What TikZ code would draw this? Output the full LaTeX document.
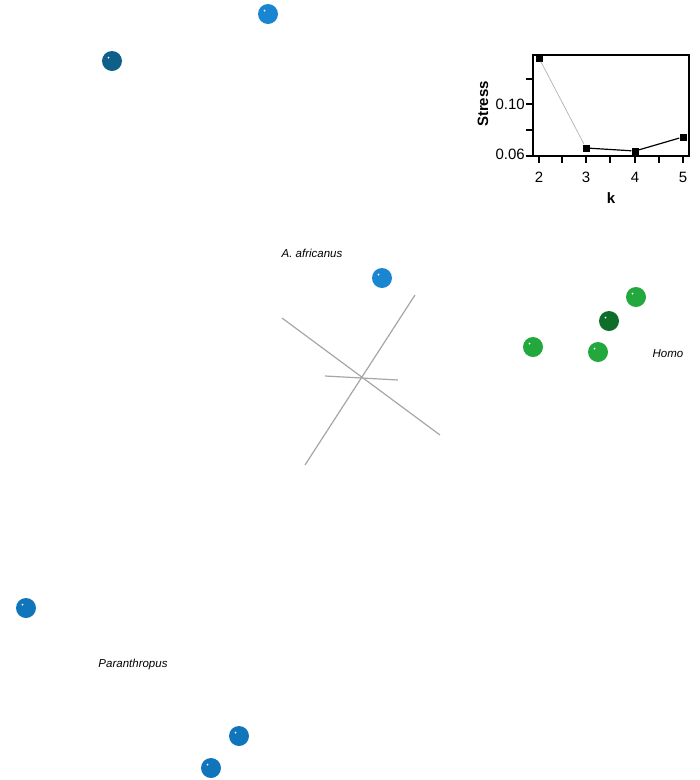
\documentclass[tikz,border=0pt]{standalone}
\usepackage{fontspec}
\setmainfont{Liberation Sans}
\begin{document}
\begin{tikzpicture}[x=1pt,y=-1pt,
  sph/.style={circle,minimum size=20pt,inner sep=0pt,fill=#1,
    path picture={\fill[white] ([xshift=-3.5pt,yshift=3.5pt]path picture bounding box.center) circle (1pt);}},
  lab/.style={font=\fontsize{11.5}{13}\selectfont\itshape},
  ax/.style={line width=1.2pt},
  pt/.style={fill=black,inner sep=0pt,minimum size=7pt,rectangle},
  tl/.style={font=\fontsize{15}{16}\selectfont}]
\useasboundingbox (0,0) rectangle (700,780);
\definecolor{b1}{HTML}{1A85D0}\definecolor{b2}{HTML}{0E5F8A}\definecolor{b3}{HTML}{1175BB}
\definecolor{g1}{HTML}{22A83C}\definecolor{g2}{HTML}{0D6E2A}
\node[sph=b1] (s1) at (268,14) {};
\node[sph=b2] (s2) at (112,61) {};
\node[sph=b1] (s3) at (382,278) {};
\node[sph=g1] (s4) at (636,297) {};
\node[sph=g2] (s5) at (609,321) {};
\node[sph=g1] (s6) at (533,347) {};
\node[sph=g1] (s7) at (598,352) {};
\node[sph=b3] (s8) at (26,608) {};
\node[sph=b3] (s9) at (239,736) {};
\node[sph=b3] (s10) at (211,768) {};
\node[lab] (la) at (312,253) {A. africanus};
\node[lab] (lh) at (668,354) {Homo};
\node[lab] (lp) at (133,665) {Paranthropus};
\draw[gray!70,line width=1.2pt] (282,318) -- (440,435) (415,295) -- (305,465) (325,376) -- (398,380);
% inset
\draw[ax] (533,55) rectangle (689,156);
\foreach \x/\l in {539/2,586/3,635/4,683/5}{
  \draw[ax] (\x,156) -- (\x,163);
  \node[tl] at (\x,177) {\l};}
\foreach \x in {562,610,659} \draw[ax] (\x,156) -- (\x,163);
\foreach \y in {79,104,130,156} \draw[ax] (533,\y) -- (526,\y);
\node[tl,anchor=east,inner sep=1pt] at (526,104) {0.10};
\node[tl,anchor=east,inner sep=1pt] at (526,154) {0.06};
\node[font=\fontsize{15}{16}\selectfont\bfseries,rotate=90] at (483,104) {Stress};
\node[font=\fontsize{15}{16}\selectfont\bfseries] at (611,198) {k};
\node[pt] (p2) at (539,58) {};
\node[pt] (p3) at (586,148) {};
\node[pt] (p4) at (635,151) {};
\node[pt] (p5) at (683,137) {};
\draw[gray!60,line width=0.7pt] (p2) -- (p3);
\draw[line width=1.2pt] (p3) -- (p4) -- (p5);
\end{tikzpicture}
\end{document}
